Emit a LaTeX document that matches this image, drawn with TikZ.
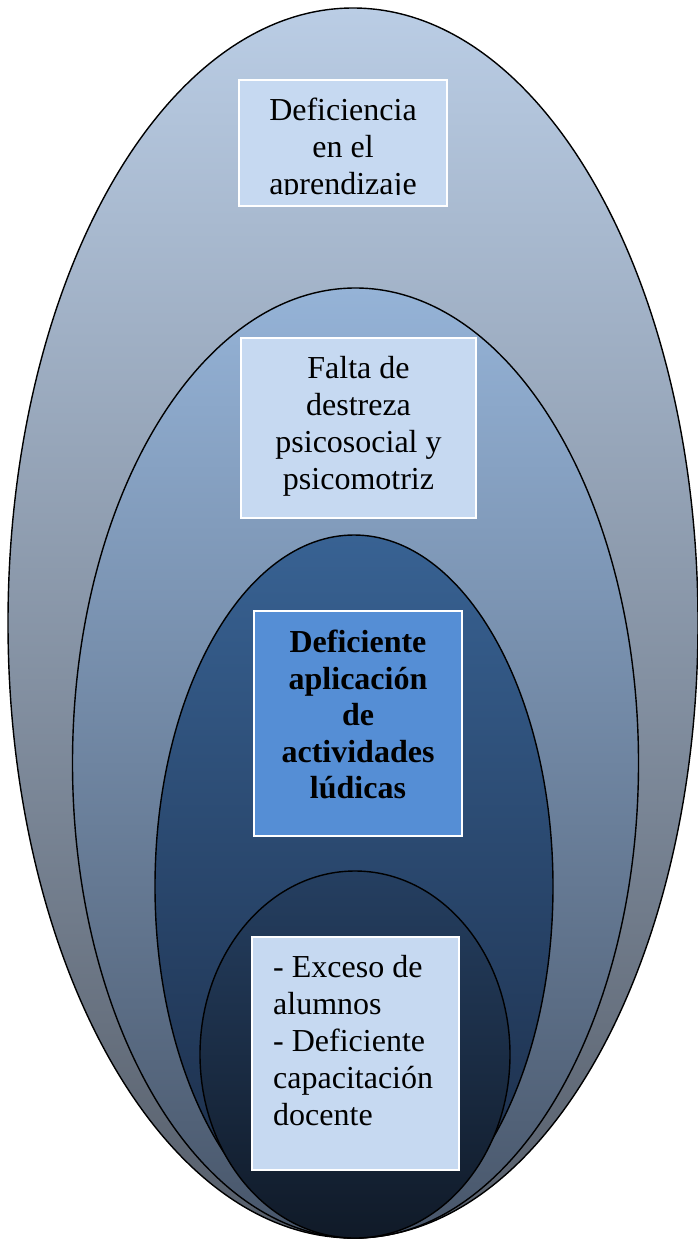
\documentclass[tikz,border=0pt]{standalone}
\usepackage{fontspec}
\setmainfont{Liberation Serif}
\definecolor{e1t}{RGB}{186,205,229}
\definecolor{e1m}{RGB}{150,166,184}
\definecolor{e1b}{RGB}{86,94,106}
\definecolor{e2t}{RGB}{149,179,215}
\definecolor{e2m}{RGB}{126,152,184}
\definecolor{e2b}{RGB}{72,86,106}
\definecolor{e3t}{RGB}{56,98,147}
\definecolor{e3m}{RGB}{44,76,118}
\definecolor{e3b}{RGB}{26,42,68}
\definecolor{e4t}{RGB}{37,63,97}
\definecolor{e4m}{RGB}{27,44,70}
\definecolor{e4b}{RGB}{16,26,40}
\definecolor{lightbox}{RGB}{198,217,241}
\definecolor{midbox}{RGB}{85,142,213}
\begin{document}
\begin{tikzpicture}[x=1pt,y=-1pt,
  ring/.style={draw=black,line width=1.4pt},
  box/.style={draw=white,line width=1.5pt,fill=#1,inner sep=0pt},
  txt/.style={inner sep=0pt,font=\fontsize{32}{37}\selectfont,text=black}]
\useasboundingbox (0,0) rectangle (697,1240);
% ellipses
\path[ring,top color=e1t,middle color=e1m,bottom color=e1b]
  (353,623) ellipse [x radius=345,y radius=615];
\path[ring,top color=e2t,middle color=e2m,bottom color=e2b]
  (355.5,763) ellipse [x radius=283,y radius=475];
\path[ring,top color=e3t,middle color=e3m,bottom color=e3b]
  (354,886.5) ellipse [x radius=199,y radius=351.5];
\path[ring,top color=e4t,middle color=e4m,bottom color=e4b]
  (355,1054.5) ellipse [x radius=155,y radius=183.5];
% boxes
\node[box=lightbox,minimum width=208pt,minimum height=126pt] (b1) at (343,143) {};
\node[box=lightbox,minimum width=235pt,minimum height=180pt] (b2) at (358.5,428) {};
\node[box=midbox,minimum width=208pt,minimum height=225pt] (b3) at (358,723.5) {};
\node[box=lightbox,minimum width=207pt,minimum height=233pt] (b4) at (355.5,1053.5) {};
% texts
\begin{scope}
\clip (241,82) rectangle (445,194);
\node[txt,align=center,anchor=north] (t1) at (343,98) {Deficiencia\\en el\\aprendizaje};
\end{scope}
\node[txt,align=center,anchor=north] (t2) at (358.5,356) {Falta de\\destreza\\psicosocial y\\psicomotriz};
\node[txt,align=center,anchor=north,font=\fontsize{32}{36.5}\selectfont\bfseries] (t3) at (358,630) {Deficiente\\aplicación\\de\\actividades\\lúdicas};
\node[txt,align=left,anchor=north west] (t4) at (273,955) {- Exceso de\\alumnos\\- Deficiente\\capacitación\\docente};
\end{tikzpicture}
\end{document}
